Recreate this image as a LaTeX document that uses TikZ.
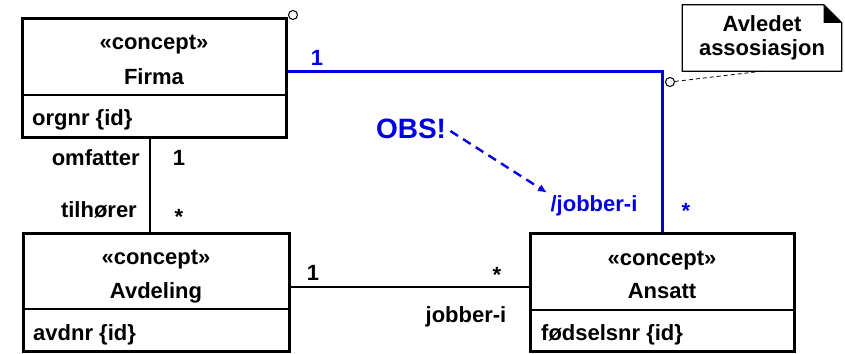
\documentclass[tikz,border=0pt]{standalone}
\usepackage{fontspec}
\setmainfont{Liberation Sans}
\usetikzlibrary{arrows.meta}

\definecolor{umlblaa}{RGB}{0,0,225}

\tikzset{
	tekst/.style = {font = \fontsize{22}{24}\selectfont\bfseries, inner sep = 0pt},
	klasse/.style = {draw, line width = 3pt, minimum width = 264pt, minimum height = 118pt, inner sep = 0pt},
	skille/.style = {line width = 1.3pt},
	assoc/.style = {line width = 2.4pt},
	avledet/.style = {line width = 3pt, umlblaa},
	anker/.style = {circle, draw, line width = 1pt, minimum size = 9pt, inner sep = 0pt},
	notat/.style = {tekst, align = center, minimum width = 159pt, minimum height = 66pt}
}

\begin{document}
\begin{tikzpicture}[x = 1pt, y = -1pt]

	\useasboundingbox (0, 0) rectangle (845, 353);

	% Firma

	\node [klasse] (firma) at (154, 78) {};
	\draw [skille] (firma.west |- 0, 95) -- (firma.east |- 0, 95);
	\node [tekst, anchor = base] (firma stereotyp) at (154, 50) {«concept»};
	\node [tekst, anchor = base] (firma navn) at (154, 84) {Firma};
	\node [tekst, anchor = base west] (firma attributt) at (32, 125) {orgnr \{id\}};
	\node [anker] (firma anker) at (293, 15) {};

	% Avdeling

	\node [klasse, minimum width = 266pt] (avdeling) at (156, 292) {};
	\draw [skille] (avdeling.west |- 0, 309) -- (avdeling.east |- 0, 309);
	\node [tekst, anchor = base] (avdeling stereotyp) at (156, 264) {«concept»};
	\node [tekst, anchor = base] (avdeling navn) at (156, 298) {Avdeling};
	\node [tekst, anchor = base west] (avdeling attributt) at (33, 340) {avdnr \{id\}};

	% Ansatt

	\node [klasse] (ansatt) at (662, 292) {};
	\draw [skille] (ansatt.west |- 0, 310) -- (ansatt.east |- 0, 310);
	\node [tekst, anchor = base] (ansatt stereotyp) at (662, 265) {«concept»};
	\node [tekst, anchor = base] (ansatt navn) at (662, 298) {Ansatt};
	\node [tekst, anchor = base west] (ansatt attributt) at (541, 340) {fødselsnr \{id\}};

	% Firma - Avdeling

	\draw [assoc] (firma.south -| 150, 0) -- (avdeling.north -| 150, 0);
	\node [tekst, anchor = base east] (omfatter) at (140, 165) {omfatter};
	\node [tekst, anchor = base] (firma mult) at (179, 165) {1};
	\node [tekst, anchor = base east] (tilhorer) at (137, 217) {tilhører};
	\node [tekst, anchor = base] (avdeling mult) at (179, 224) {*};

	% Avdeling - Ansatt

	\draw [assoc] (avdeling.east |- 0, 287) -- (ansatt.west |- 0, 287);
	\node [tekst, anchor = base] (avdeling ende) at (313, 280) {1};
	\node [tekst, anchor = base] (ansatt ende) at (497, 282) {*};
	\node [tekst, anchor = base] (jobber) at (466, 322) {jobber-i};

	% Avledet assosiasjon

	\draw [avledet] (firma.east |- 0, 71) -| (ansatt.north);
	\node [tekst, umlblaa, anchor = base] (firma ende) at (317, 65) {1};
	\node [tekst, umlblaa, anchor = base] (ansatt blaa) at (686, 218) {*};
	\node [tekst, umlblaa, anchor = base] (avledet rolle) at (594, 211) {/jobber-i};
	\node [anker] (avledet anker) at (670, 82) {};

	% OBS

	\node [tekst, umlblaa, font = \fontsize{28}{30}\selectfont\bfseries, anchor = base] (obs) at (411, 138) {OBS!};
	\draw [umlblaa, line width = 2.4pt, dash pattern = on 9pt off 6pt, -{Latex[length = 9pt, width = 8pt]}, shorten < = 5pt, shorten > = 4pt] (obs.east) -- (avledet rolle.north west);

	% Notat

	\node [notat] (notat) at (762, 38) {Avledet\\assosiasjon};
	\draw [line width = 1.3pt] (notat.south west) -- (notat.north west) -- ([xshift = -18pt] notat.north east) -- ([yshift = -18pt] notat.north east) -- (notat.south east) -- cycle;
	\fill ([xshift = -18pt] notat.north east) -- ([yshift = -18pt] notat.north east) -- ([xshift = -18pt, yshift = -18pt] notat.north east) -- cycle;
	\draw [line width = 0.8pt, dash pattern = on 4pt off 3pt] (avledet anker) -- (notat.south);

\end{tikzpicture}
\end{document}
